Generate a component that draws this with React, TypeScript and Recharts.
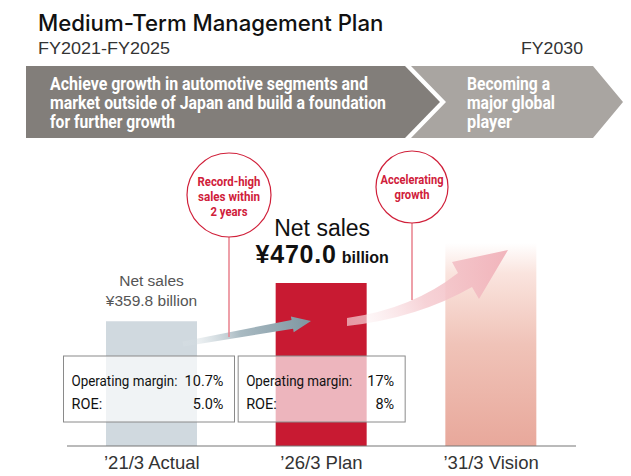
import { BarChart, Bar, XAxis, YAxis, Cell, LabelList } from "recharts";

const periods = ["’21/3 Actual", "’26/3 Plan", "’31/3 Vision"];
const netSales = [359.8, 470.0, 585];
const salesText = ["¥359.8 billion", "¥470.0", ""];
const opMargin = ["10.7%", "17%", ""];
const roe = ["5.0%", "8%", ""];
const planLines = [
  "Achieve growth in automotive segments and",
  "market outside of Japan and build a foundation",
  "for further growth",
];
const visionLines = ["Becoming a", "major global", "player"];
const recordLines = ["Record-high", "sales within", "2 years"];
const accelLines = ["Accelerating", "growth"];

const data = periods.map((p, i) => ({ period: p, sales: netSales[i] }));

const SANS = "'Liberation Sans', Arial, Helvetica, sans-serif";
const COND = "Roboto, 'Liberation Sans', sans-serif";
const barColors = ["#d0d9df", "#c81a32", "url(#visionGrad)"];

// rough widths of the condensed lines
const planWidths = [318, 336, 125];
const visionWidths = [83, 88, 45];
const recordWidths = [63, 62, 37];
const accelWidths = [63, 35];

// label above the first two bars
function SalesLabel(props: any) {
  const { x, y, width, index } = props;
  const cx = x + width / 2;
  if (index === 0) {
    return (
      <g fontFamily={SANS} fill="#555" fontSize={15.5} textAnchor="middle">
        <text x={cx} y={y - 35}>Net sales</text>
        <text x={cx} y={y - 15}>{salesText[0]}</text>
      </g>
    );
  }
  if (index === 1) {
    return (
      <g fontFamily={SANS} fill="#111" textAnchor="middle">
        <text x={cx + 1} y={y - 47} fontSize={23}>Net sales</text>
        <text x={cx + 1} y={y - 20} fontWeight="bold" fontSize={25} letterSpacing={0.8}>
          {salesText[1]}
          <tspan fontSize={16} dx={5} letterSpacing={0}>billion</tspan>
        </text>
      </g>
    );
  }
  return null;
}

// KPI box sitting over the bottom of a bar
function KpiBox(props: any) {
  const { x, y, width, height, index } = props;
  if (!opMargin[index]) return null;
  const base = y + height;
  const cx = x + width / 2;
  const left = index === 0 ? cx - 88 : cx - 83;
  const w = index === 0 ? 171 : 167;
  const top = base - 90;
  return (
    <g fontFamily={COND} fontSize={14.5} fill="#111">
      <rect x={left} y={top} width={w} height={66} fill="#fff" fillOpacity={0.68} stroke="#8a8a8a" strokeWidth={1} />
      <text x={left + 8} y={top + 30} textLength={106} lengthAdjust="spacingAndGlyphs">Operating margin:</text>
      <text x={left + w - 11} y={top + 30} textAnchor="end">{opMargin[index]}</text>
      <text x={left + 8} y={top + 53}>ROE:</text>
      <text x={left + w - 11} y={top + 53} textAnchor="end">{roe[index]}</text>
    </g>
  );
}

function straightArrow(x1: number, y1: number, x2: number, y2: number, w0: number, w1: number, hw: number, hl: number) {
  const len = Math.hypot(x2 - x1, y2 - y1);
  const ux = (x2 - x1) / len;
  const uy = (y2 - y1) / len;
  const nx = -uy;
  const ny = ux;
  const bx = x2 - ux * hl;
  const by = y2 - uy * hl;
  const pts = [
    [x1 + nx * w0, y1 + ny * w0],
    [bx + nx * w1, by + ny * w1],
    [bx + nx * hw, by + ny * hw],
    [x2, y2],
    [bx - nx * hw, by - ny * hw],
    [bx - nx * w1, by - ny * w1],
    [x1 - nx * w0, y1 - ny * w0],
  ];
  return "M" + pts.map((p) => p[0].toFixed(1) + "," + p[1].toFixed(1)).join("L") + "Z";
}

function Overlay() {
  return (
    <svg width={631} height={476} style={{ position: "absolute", left: 0, top: 0, pointerEvents: "none" }}>
      <defs>
        <linearGradient id="grayArrow" gradientUnits="userSpaceOnUse" x1={183} y1={344} x2={311} y2={321}>
          <stop offset="0" stopColor="#dfe6ea" stopOpacity={0.2} />
          <stop offset="0.45" stopColor="#a9bac2" />
          <stop offset="1" stopColor="#7e96a1" />
        </linearGradient>
        <linearGradient id="pinkArrow" gradientUnits="userSpaceOnUse" x1={347} y1={322} x2={508} y2={250}>
          <stop offset="0" stopColor="#ffffff" stopOpacity={0.55} />
          <stop offset="0.45" stopColor="#f5cbd0" stopOpacity={0.85} />
          <stop offset="1" stopColor="#efa9b2" stopOpacity={0.85} />
        </linearGradient>
      </defs>

      {/* title */}
      <text x={38} y={31} fontFamily="Inter, sans-serif" fontWeight={500} fontSize={22.2} fill="#111">
        Medium-Term Management Plan
      </text>
      <text x={38} y={54} fontFamily={SANS} fontSize={16} fill="#333" textLength={132} lengthAdjust="spacingAndGlyphs">
        FY2021-FY2025
      </text>
      <text x={521} y={54} fontFamily={SANS} fontSize={16} fill="#333" textLength={62} lengthAdjust="spacingAndGlyphs">
        FY2030
      </text>

      {/* chevrons */}
      <polygon points="26,66 405,66 440,102 405,138 26,138" fill="#827e7a" />
      <polygon points="411,66 593,66 623,102 593,138 411,138 446,102" fill="#a9a5a1" />
      <g fontFamily={COND} fontWeight="bold" fontSize={18} fill="#fff">
        {planLines.map((t, i) => (
          <text key={t} x={50} y={90 + i * 19} textLength={planWidths[i]} lengthAdjust="spacingAndGlyphs">{t}</text>
        ))}
        {visionLines.map((t, i) => (
          <text key={t} x={467} y={90 + i * 19} textLength={visionWidths[i]} lengthAdjust="spacingAndGlyphs">{t}</text>
        ))}
      </g>

      {/* arrows */}
      <path d={straightArrow(183, 344, 311, 321, 2.5, 4.5, 8, 19)} fill="url(#grayArrow)" />
      <path
        d="M347,318 Q412,309 458,273 L452,262 L508,250 L479,299 L472,287 Q418,318 347,326 Z"
        fill="url(#pinkArrow)"
      />

      {/* callouts */}
      <line x1={229} y1={237} x2={229} y2={337} stroke="#e8808c" strokeWidth={1.5} />
      <circle cx={229} cy={195} r={42} fill="#fff" stroke="#d0203a" strokeWidth={1.2} />
      <g fontFamily={COND} fontWeight="bold" fontSize={13} fill="#d0203a" textAnchor="middle">
        {recordLines.map((t, i) => (
          <text key={t} x={229} y={186 + i * 15} textLength={recordWidths[i]} lengthAdjust="spacingAndGlyphs">{t}</text>
        ))}
      </g>
      <line x1={412} y1={223} x2={412} y2={300} stroke="#e8808c" strokeWidth={1.5} />
      <circle cx={412} cy={187} r={36} fill="#fff" stroke="#d0203a" strokeWidth={1.2} />
      <g fontFamily={COND} fontWeight="bold" fontSize={13} fill="#d0203a" textAnchor="middle">
        {accelLines.map((t, i) => (
          <text key={t} x={412} y={184 + i * 15} textLength={accelWidths[i]} lengthAdjust="spacingAndGlyphs">{t}</text>
        ))}
      </g>
    </svg>
  );
}

export default function App() {
  return (
    <div style={{ position: "absolute", left: 0, top: 0, width: 631, height: 476, background: "#fff" }}>
      <BarChart width={631} height={476} data={data} margin={{ top: 99, right: 55, bottom: 0, left: 67 }}>
        <defs>
          <linearGradient id="visionGrad" x1="0" y1="0" x2="0" y2="1">
            <stop offset="0" stopColor="#ffffff" />
            <stop offset="0.15" stopColor="#fae4de" />
            <stop offset="0.5" stopColor="#f0c3b8" />
            <stop offset="1" stopColor="#e8a89b" />
          </linearGradient>
        </defs>
        <XAxis
          dataKey="period"
          height={30}
          axisLine={{ stroke: "#777", strokeWidth: 1.2 }}
          tickLine={false}
          tick={{ fill: "#333", fontSize: 18.5, fontFamily: SANS }}
          tickMargin={4}
        />
        <YAxis hide domain={[0, 1000]} />
        <Bar dataKey="sales" barSize={91} isAnimationActive={false}>
          {data.map((d, i) => (
            <Cell key={d.period} fill={barColors[i]} />
          ))}
          <LabelList dataKey="sales" content={SalesLabel} />
          <LabelList dataKey="sales" content={KpiBox} />
        </Bar>
      </BarChart>
      <Overlay />
    </div>
  );
}
